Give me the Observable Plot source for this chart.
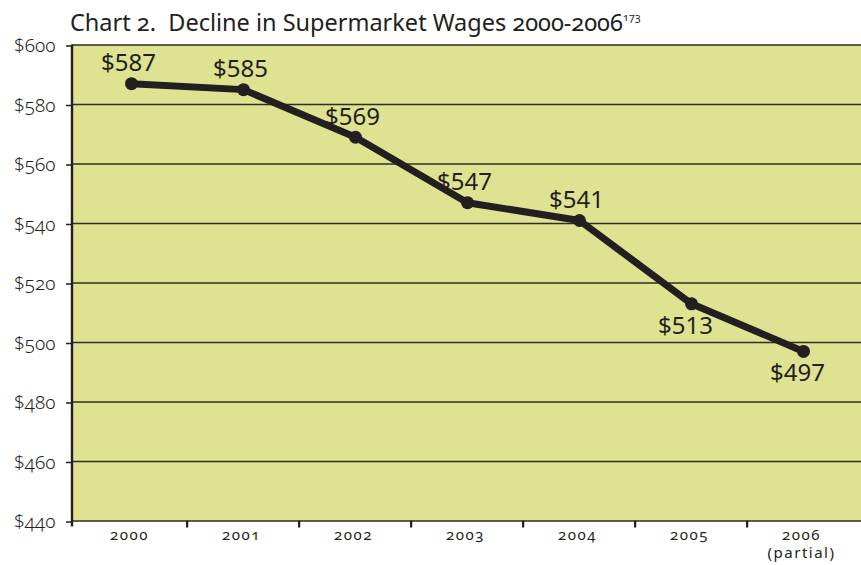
<!DOCTYPE html>
<html><head><meta charset="utf-8">
<script src="https://cdn.jsdelivr.net/npm/d3@7"></script>
<script src="https://cdn.jsdelivr.net/npm/@observablehq/plot@0.6"></script>
<style>
body{margin:0;background:#fff;font-family:"Noto Sans",sans-serif;color:#231f20}
#title{height:28px;padding-left:70px;box-sizing:border-box;font-size:23.5px;line-height:28px;padding-top:8px;white-space:pre;font-variant-numeric:oldstyle-nums}
#title sup{font-size:11px;vertical-align:10px;line-height:0}
#chart svg{overflow:visible}
</style></head><body>
<div id="title">Chart 2.  Decline in Supermarket Wages 2000-2006<sup>173</sup></div>
<div id="chart"></div>
<script>
const years = ["2000","2001","2002","2003","2004","2005","2006"];
const yearLabels = ["2000","2001","2002","2003","2004","2005","2006\n(partial)"];
const wages = [587,585,569,547,541,513,497];
const labelSide = ["above","above","above","above","above","below","below"];
const yTicks = [440,460,480,500,520,540,560,580,600];

const data = years.map((y,i)=>({year:y, wage:wages[i], side:labelSide[i]}));
const W = 861, H = 537, ML = 72, MR = 0, MT = 16.5, MB = 44.5;
const step = (W-ML-MR)/years.length;
const ink = "#231f20";

const chart = Plot.plot({
  width: W, height: H,
  marginLeft: ML, marginRight: MR, marginTop: MT, marginBottom: MB,
  style: {fontFamily: '"Noto Sans", sans-serif', color: ink, background: "#fff"},
  x: {type: "band", domain: years, padding: 0, label: null},
  y: {domain: [440, 600], label: null},
  marks: [
    Plot.frame({fill: "#dee291", stroke: null}),
    Plot.ruleY(yTicks, {stroke: "#2e2e26", strokeWidth: 1.4}),
    Plot.axisY({ticks: yTicks, tickFormat: d => "$" + d, tickSize: 6, tickPadding: 11, fontSize: 19, fontWeight: 300, strokeWidth: 1.5, fontVariant: "oldstyle-nums", dy: 1}),
    Plot.axisX(years.slice(1), {tickSize: 7, tickFormat: () => "", dx: -step/2, strokeWidth: 2.2, stroke: ink}),
    Plot.axisX({tickSize: 0, tickPadding: 6, tickFormat: (d,i) => yearLabels[years.indexOf(d)], fontSize: 15, lineHeight: 1.2, fontVariant: "oldstyle-nums", dx: -2}),
    Plot.line(data, {x: "year", y: "wage", stroke: ink, strokeWidth: 7, strokeLinejoin: "round"}),
    Plot.dot(data, {x: "year", y: "wage", r: 6.5, fill: ink}),
    Plot.text(data.filter(d => d.side === "above"), {x: "year", y: "wage", text: d => "$" + d.wage, dy: -20, fontSize: 24, fill: ink, dx: -3}),
    Plot.text(data.filter(d => d.side === "below"), {x: "year", y: "wage", text: d => "$" + d.wage, dy: 22, fontSize: 24, fill: ink, dx: -6})
  ]
});
document.getElementById("chart").appendChild(chart);
// y-axis line
d3.select(chart).append("line")
  .attr("x1", ML).attr("x2", ML).attr("y1", MT).attr("y2", H - MB + 6)
  .attr("stroke", ink).attr("stroke-width", 2.4);
d3.select(chart).selectAll('g[aria-label="x-axis tick label"] text').style("letter-spacing", "1.5px");
</script>
</body></html>
